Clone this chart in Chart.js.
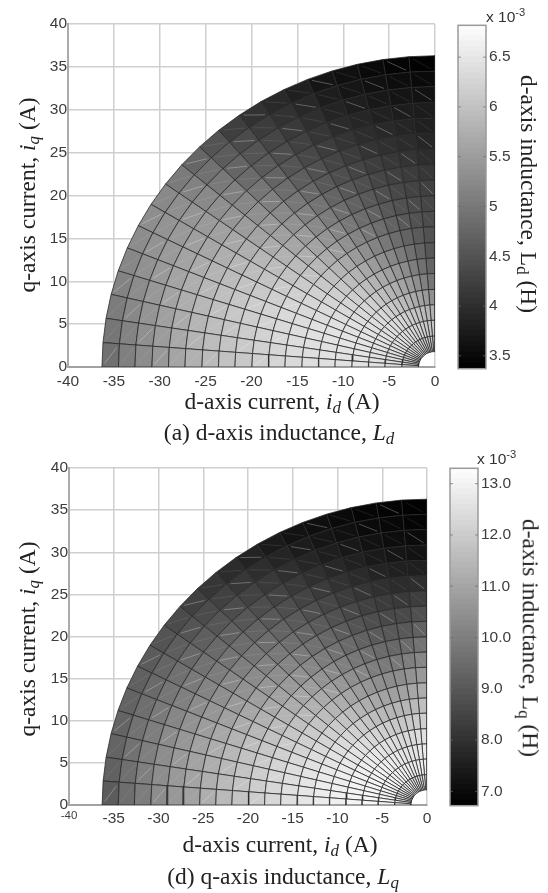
<!DOCTYPE html>
<html>
<head>
<meta charset="utf-8">
<title>d-axis and q-axis inductance maps</title>
<script src="https://cdn.jsdelivr.net/npm/chart.js@4"></script>
<style>
html, body { margin: 0; background: #fff; }
#page { position: relative; width: 548px; height: 893px; overflow: hidden; filter: blur(0.45px); }
canvas { position: absolute; }
.t { position: absolute; white-space: nowrap; font-family: "Liberation Serif", serif; font-size: 23.5px; color: #222; line-height: 1; transform: translate(-50%, -50%); }
.t.up { transform: translate(-50%, -50%) rotate(-90deg); }
.t.down { transform: translate(-50%, -50%) rotate(90deg); }
.t sub { font-size: 0.72em; line-height: 0; vertical-align: -0.25em; }
.exp { position: absolute; white-space: nowrap; font-family: "Liberation Sans", sans-serif; font-size: 15.5px; color: #333; line-height: 1; }
.exp sup { font-size: 0.72em; line-height: 0; vertical-align: 0.5em; }
</style>
</head>
<body>
<div id="page">
  <canvas id="mapD" style="left:0;top:0"></canvas>
  <canvas id="barD" style="left:456px;top:13px"></canvas>
  <canvas id="mapQ" style="left:0;top:446px"></canvas>
  <canvas id="barQ" style="left:448px;top:456px"></canvas>

  <div class="exp" style="left:486px;top:9px">x 10<sup>-3</sup></div>
  <div class="exp" style="left:477px;top:451px">x 10<sup>-3</sup></div>

  <div class="t up" style="left:28px;top:195px">q-axis current, <i>i<sub>q</sub></i> (A)</div>
  <div class="t" style="left:282px;top:402px">d-axis current, <i>i<sub>d</sub></i> (A)</div>
  <div class="t" style="left:279px;top:433px">(a) d-axis inductance, <i>L<sub>d</sub></i></div>
  <div class="t down" style="left:528px;top:194px">d-axis inductance, L<sub>d</sub> (H)</div>

  <div class="t up" style="left:28px;top:639px">q-axis current, <i>i<sub>q</sub></i> (A)</div>
  <div class="t" style="left:280px;top:845px">d-axis current, <i>i<sub>d</sub></i> (A)</div>
  <div class="t" style="left:283px;top:877px">(d) q-axis inductance, <i>L<sub>q</sub></i></div>
  <div class="t down" style="left:530px;top:638px">d-axis inductance, L<sub>q</sub> (H)</div>
</div>

<script>
// axis ticks
const idTicks = [-40, -35, -30, -25, -20, -15, -10, -5, 0];
const iqTicks = [0, 5, 10, 15, 20, 25, 30, 35, 40];
const ldBarTicks = [3.5, 4, 4.5, 5, 5.5, 6, 6.5];
const lqBarTicks = [7, 8, 9, 10, 11, 12, 13];

// colour bar ranges, mH
const ldRange = [3.37, 6.82];
const lqRange = [6.72, 13.3];

// mesh: current amplitude (A) and current angle from the -d axis (deg)
const radii = [1.8, 3.6, 5.45, 7.25, 9.05, 10.9, 12.7, 14.5, 16.35, 18.15, 19.95, 21.8, 23.6, 25.4, 27.25, 29.05, 30.85, 32.7, 34.5, 36.3];
const angles = [0, 4.5, 9, 13.5, 18, 22.5, 27, 31.5, 36, 40.5, 45, 49.5, 54, 58.5, 63, 67.5, 72, 76.5, 81, 85.5, 90];

const ldValues = [
  [6.21,6.35,6.40,6.43,6.41,6.40,6.37,6.32,6.25,6.17,6.08,6.00,5.89,5.77,5.60,5.43,5.26,5.09,4.89],
  [6.22,6.36,6.41,6.44,6.43,6.41,6.38,6.34,6.27,6.19,6.10,6.02,5.92,5.80,5.65,5.48,5.32,5.14,4.97],
  [6.23,6.37,6.42,6.45,6.44,6.42,6.40,6.36,6.29,6.21,6.13,6.04,5.94,5.82,5.69,5.53,5.37,5.21,5.05],
  [6.23,6.37,6.43,6.46,6.45,6.44,6.41,6.37,6.31,6.23,6.15,6.06,5.97,5.85,5.73,5.58,5.43,5.27,5.14],
  [6.24,6.38,6.44,6.46,6.45,6.44,6.41,6.36,6.30,6.23,6.14,6.05,5.95,5.84,5.72,5.59,5.46,5.33,5.20],
  [6.25,6.38,6.43,6.45,6.42,6.40,6.36,6.31,6.25,6.17,6.08,5.99,5.90,5.80,5.69,5.58,5.46,5.36,5.26],
  [6.25,6.38,6.42,6.43,6.40,6.36,6.32,6.26,6.18,6.10,6.01,5.93,5.83,5.73,5.62,5.52,5.44,5.36,5.29],
  [6.25,6.37,6.40,6.40,6.36,6.31,6.25,6.18,6.10,6.00,5.92,5.83,5.73,5.63,5.53,5.45,5.38,5.30,5.22],
  [6.25,6.36,6.38,6.36,6.31,6.25,6.17,6.08,5.98,5.88,5.78,5.68,5.58,5.48,5.38,5.30,5.22,5.13,5.03],
  [6.24,6.35,6.36,6.32,6.25,6.16,6.06,5.95,5.84,5.73,5.62,5.52,5.42,5.31,5.20,5.10,5.01,4.90,4.75],
  [6.24,6.34,6.33,6.27,6.17,6.05,5.93,5.81,5.68,5.57,5.45,5.34,5.22,5.10,4.97,4.82,4.74,4.62,4.50],
  [6.23,6.32,6.29,6.19,6.05,5.92,5.78,5.64,5.50,5.37,5.24,5.12,4.98,4.85,4.72,4.60,4.50,4.38,4.22],
  [6.22,6.30,6.24,6.10,5.94,5.79,5.63,5.47,5.32,5.18,5.05,4.92,4.78,4.64,4.51,4.41,4.30,4.18,4.04],
  [6.20,6.27,6.17,6.00,5.82,5.65,5.47,5.30,5.14,5.00,4.86,4.72,4.58,4.47,4.35,4.25,4.16,4.05,3.93],
  [6.18,6.23,6.10,5.90,5.71,5.52,5.32,5.15,4.98,4.84,4.70,4.56,4.43,4.31,4.20,4.10,4.01,3.91,3.80],
  [6.15,6.20,6.03,5.80,5.60,5.40,5.20,5.00,4.85,4.70,4.57,4.44,4.30,4.18,4.07,3.95,3.86,3.76,3.66],
  [6.12,6.15,5.95,5.69,5.45,5.25,5.04,4.85,4.70,4.56,4.44,4.32,4.21,4.08,3.98,3.88,3.77,3.67,3.58],
  [6.08,6.10,5.88,5.58,5.30,5.08,4.88,4.71,4.58,4.46,4.35,4.24,4.13,4.02,3.92,3.82,3.70,3.60,3.50],
  [6.05,6.05,5.80,5.45,5.12,4.90,4.73,4.60,4.48,4.38,4.28,4.18,4.07,3.97,3.87,3.76,3.65,3.54,3.44],
  [5.95,6.05,5.75,5.30,4.95,4.72,4.55,4.48,4.40,4.32,4.24,4.12,3.98,3.88,3.80,3.75,3.62,3.50,3.40]
];

// Lq (mH), same layout
const lqValues = [
  [12.78,13.04,13.09,13.04,12.91,12.81,12.65,12.50,12.27,12.01,11.75,11.49,11.21,10.90,10.64,10.33,9.95,9.56,9.09],
  [12.78,13.03,13.08,13.03,12.91,12.81,12.66,12.50,12.27,12.02,11.77,11.51,11.24,10.95,10.68,10.36,10.00,9.62,9.22],
  [12.77,13.02,13.07,13.02,12.90,12.80,12.64,12.48,12.25,12.00,11.75,11.49,11.22,10.93,10.66,10.35,10.00,9.65,9.30],
  [12.76,13.02,13.05,13.00,12.87,12.76,12.60,12.44,12.20,11.95,11.72,11.45,11.18,10.90,10.62,10.30,9.97,9.65,9.30],
  [12.76,13.01,13.04,12.97,12.83,12.70,12.52,12.33,12.10,11.85,11.62,11.34,11.06,10.78,10.50,10.18,9.88,9.57,9.27],
  [12.75,13.00,13.02,12.94,12.78,12.62,12.42,12.20,11.96,11.70,11.45,11.17,10.88,10.60,10.32,10.03,9.76,9.46,9.20],
  [12.74,12.99,13.00,12.90,12.73,12.55,12.32,12.08,11.82,11.54,11.28,11.00,10.70,10.42,10.13,9.86,9.60,9.33,9.08],
  [12.73,12.97,12.97,12.86,12.66,12.46,12.20,11.94,11.65,11.36,11.08,10.80,10.50,10.22,9.92,9.66,9.40,9.14,8.90],
  [12.70,12.95,12.93,12.79,12.58,12.35,12.07,11.78,11.48,11.17,10.89,10.60,10.30,10.00,9.72,9.45,9.18,8.90,8.65],
  [12.68,12.92,12.88,12.72,12.49,12.22,11.92,11.60,11.28,10.98,10.68,10.38,10.07,9.78,9.50,9.22,8.95,8.66,8.40],
  [12.65,12.89,12.83,12.65,12.38,12.08,11.75,11.40,11.07,10.76,10.45,10.14,9.83,9.55,9.27,8.97,8.68,8.40,8.12],
  [12.62,12.86,12.78,12.57,12.27,11.93,11.56,11.18,10.85,10.52,10.20,9.88,9.58,9.30,8.99,8.70,8.42,8.15,7.85],
  [12.60,12.83,12.73,12.50,12.16,11.78,11.38,10.98,10.62,10.27,9.95,9.63,9.33,9.03,8.73,8.45,8.18,7.90,7.62],
  [12.58,12.80,12.68,12.42,12.05,11.63,11.20,10.78,10.38,10.03,9.70,9.38,9.07,8.76,8.48,8.20,7.93,7.68,7.42],
  [12.56,12.78,12.63,12.36,11.95,11.50,11.05,10.58,10.18,9.80,9.46,9.13,8.82,8.52,8.24,7.96,7.70,7.45,7.22],
  [12.55,12.77,12.60,12.30,11.88,11.40,10.92,10.42,9.98,9.60,9.24,8.90,8.58,8.28,8.02,7.75,7.50,7.28,7.10],
  [12.55,12.78,12.60,12.30,11.86,11.38,10.86,10.33,9.88,9.46,9.08,8.72,8.40,8.10,7.82,7.56,7.34,7.12,6.98],
  [12.58,12.80,12.64,12.34,11.90,11.42,10.90,10.36,9.85,9.40,8.98,8.60,8.26,7.95,7.66,7.40,7.18,7.00,6.88],
  [12.62,12.84,12.70,12.42,11.98,11.52,11.00,10.50,9.98,9.48,9.02,8.60,8.20,7.86,7.55,7.28,7.06,6.92,6.82],
  [12.66,12.90,12.78,12.52,12.10,11.66,11.15,10.68,10.18,9.68,9.22,8.78,8.32,7.90,7.52,7.20,7.00,6.85,6.78]
];

Chart.defaults.animation = false;
Chart.defaults.plugins.legend.display = false;
Chart.defaults.plugins.tooltip.enabled = false;

const tickFont = 'Liberation Sans';
const tickColor = '#3c3c3c';

function grey(v, range) {
  const g = Math.round(255 * (v - range[0]) / (range[1] - range[0]));
  return 'rgb(' + g + ',' + g + ',' + g + ')';
}

function polar(r, deg) {
  const a = deg * Math.PI / 180;
  return { x: -r * Math.cos(a), y: r * Math.sin(a) };
}

function meshDatasets(values, range) {
  const cells = [];
  const seamStrong = [];
  const seamFaint = [];
  values.forEach((row, s) => {
    row.forEach((v, k) => {
      const a = polar(radii[k], angles[s]);
      const b = polar(radii[k + 1], angles[s]);
      const c = polar(radii[k + 1], angles[s + 1]);
      const d = polar(radii[k], angles[s + 1]);
      cells.push({
        type: 'scatter',
        data: [a, b, c, d, a],
        showLine: true,
        fill: 'shape',
        backgroundColor: grey(v, range),
        borderColor: 'rgba(40,40,40,0.78)',
        borderWidth: 1,
        pointRadius: 0
      });
      // light triangle seams across the quads, only in the outer half
      if (k >= 8) {
        const target = (s + 2 * k) % 3 === 0 ? seamStrong : seamFaint;
        target.push(
          { x: b.x + (d.x - b.x) * 0.15, y: b.y + (d.y - b.y) * 0.15 },
          { x: b.x + (d.x - b.x) * 0.85, y: b.y + (d.y - b.y) * 0.85 },
          { x: null, y: null }
        );
      }
    });
  });
  const seam = (data, color) => ({
    type: 'scatter', data, showLine: true, spanGaps: false, fill: false,
    borderColor: color, borderWidth: 1, pointRadius: 0
  });
  return [seam(seamStrong, 'rgba(255,255,255,0.28)'), seam(seamFaint, 'rgba(255,255,255,0.09)')].concat(cells);
}

function drawMap(id, width, height, values, range, box, smallCorner) {
  const cv = document.getElementById(id);
  cv.width = width;
  cv.height = height;
  new Chart(cv, {
    type: 'scatter',
    data: { datasets: meshDatasets(values, range) },
    options: {
      responsive: false,
      layout: { padding: { top: box.top, right: width - box.right, bottom: height - box.bottom - 30, left: 0 } },
      scales: {
        x: {
          type: 'linear', min: -40, max: 0,
          afterBuildTicks: s => { s.ticks = idTicks.map(v => ({ value: v })); },
          afterFit: s => { s.height = 30; },
          grid: { color: '#cfcfcf', lineWidth: 1.5, drawTicks: false },
          border: { color: '#a2a2a2', width: 2 },
          ticks: {
            padding: smallCorner ? 4 : 5,
            maxRotation: 0,
            autoSkip: false,
            color: tickColor,
            font: c => ({ family: tickFont, size: smallCorner && c.tick && c.tick.value === -40 ? 11.5 : 15.5 })
          }
        },
        y: {
          type: 'linear', min: 0, max: 40,
          afterBuildTicks: s => { s.ticks = iqTicks.map(v => ({ value: v })); },
          afterFit: s => { s.width = box.left; },
          grid: { color: '#cfcfcf', lineWidth: 1.5, drawTicks: false },
          border: { color: '#ababab', width: 2 },
          ticks: { padding: 1, autoSkip: false, color: tickColor, font: { family: tickFont, size: 15.5 } }
        }
      }
    }
  });
}

function drawBar(id, width, height, range, ticks, digits) {
  const cv = document.getElementById(id);
  cv.width = width;
  cv.height = height;
  const bands = [];
  const n = 64;
  const step = (range[1] - range[0]) / n;
  for (let i = 0; i < n; i++) {
    const lo = range[0] + i * step;
    bands.push({
      data: [[lo, lo + step * 1.1]],
      backgroundColor: grey(lo + step / 2, range),
      borderWidth: 0,
      grouped: false,
      barPercentage: 1,
      categoryPercentage: 1
    });
  }
  new Chart(cv, {
    type: 'bar',
    data: { labels: [''], datasets: bands },
    options: {
      responsive: false,
      // the scale keeps half a label height free at each end, so leave room for it
      layout: { padding: { top: 12, bottom: 12, left: 2, right: 0 } },
      scales: {
        x: { display: false },
        y: {
          position: 'right',
          min: range[0], max: range[1],
          afterBuildTicks: s => { s.ticks = ticks.map(v => ({ value: v })); },
          afterFit: s => { s.width = width - 30; },
          grid: { display: false, drawTicks: false },
          border: { display: false },
          ticks: {
            padding: 3,
            autoSkip: false,
            color: tickColor,
            font: { family: tickFont, size: 15.5 },
            callback: v => digits ? v.toFixed(digits) : String(v)
          }
        }
      }
    },
    plugins: [{
      id: 'barFrame',
      afterDatasetsDraw(chart) {
        const { ctx, chartArea: a, scales } = chart;
        ctx.save();
        ctx.strokeStyle = '#9a9a9a';
        ctx.lineWidth = 1.5;
        ctx.strokeRect(a.left, a.top, a.right - a.left, a.bottom - a.top);
        ctx.strokeStyle = 'rgba(110,110,110,0.7)';
        ctx.lineWidth = 1;
        ticks.forEach(v => {
          const y = scales.y.getPixelForValue(v);
          ctx.beginPath();
          ctx.moveTo(a.left, y); ctx.lineTo(a.left + 3, y);
          ctx.moveTo(a.right - 3, y); ctx.lineTo(a.right, y);
          ctx.stroke();
        });
        ctx.restore();
      }
    }]
  });
}

drawMap('mapD', 548, 446, ldValues, ldRange, { left: 68, right: 435, top: 24, bottom: 367 }, false);
drawMap('mapQ', 548, 447, lqValues, lqRange, { left: 69, right: 427, top: 22, bottom: 359 }, true);
drawBar('barD', 74, 368, ldRange, ldBarTicks, 0);
drawBar('barQ', 74, 362, lqRange, lqBarTicks, 1);
</script>
</body>
</html>
